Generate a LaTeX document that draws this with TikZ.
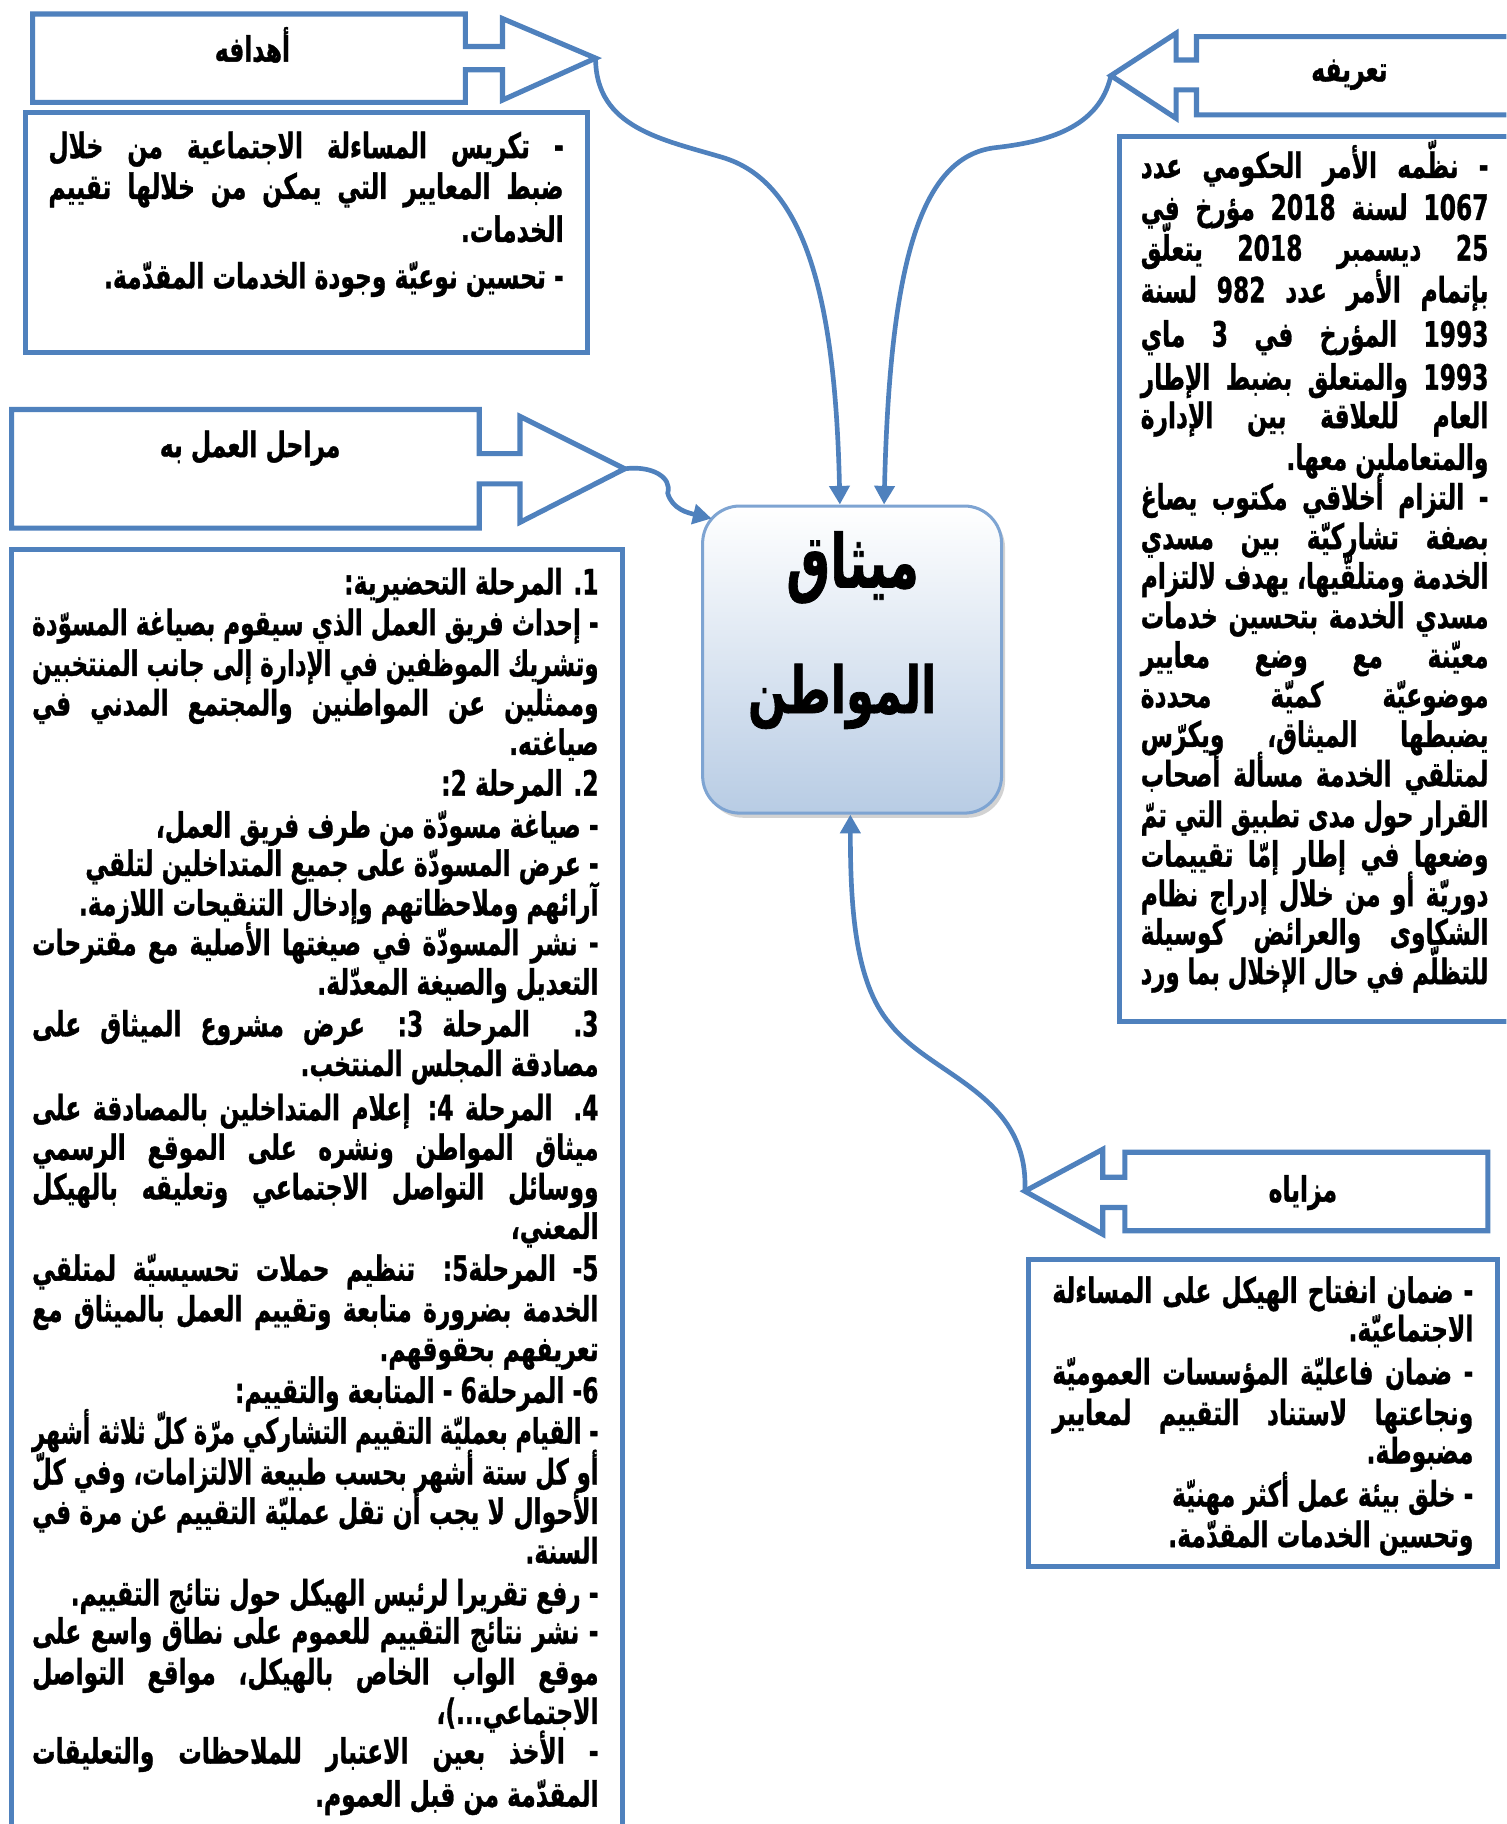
\documentclass[tikz,border=0pt]{standalone}
\usepackage{fontspec}
\usepackage{graphicx}
\usetikzlibrary{arrows.meta,calc,shadows}
\TeXXeTstate=1
\newfontfamily\arfont[Script=Arabic,BoldFeatures={FakeBold=1.2}]{DejaVu Sans}
\newcommand\arbody{\arfont\bfseries\fontsize{15}{18}\selectfont}
\definecolor{ob}{RGB}{79,129,189}
\definecolor{hubbot}{RGB}{184,204,228}
\definecolor{hubline}{RGB}{126,164,210}
\newsavebox\lnbox
\newlength\tmpw
\newcommand\hsc{0.67}
\newcommand\hscinv{1.4925}
\newcommand\jl[2]{\sbox\lnbox{\beginR #2\endR}%
  \setlength\tmpw{\hscinv\dimexpr#1\relax}%
  \ifdim\wd\lnbox>\tmpw\relax\resizebox{#1}{\ht\lnbox}{\usebox\lnbox}%
  \else\scalebox{\hsc}[1]{\hbox to \tmpw{\beginR #2\endR}}\fi}
\newcommand\rl[2]{\sbox\lnbox{\beginR #2\endR}%
  \setlength\tmpw{\hscinv\dimexpr#1\relax}%
  \ifdim\wd\lnbox>\tmpw\relax\resizebox{#1}{\ht\lnbox}{\usebox\lnbox}%
  \else\scalebox{\hsc}[1]{\usebox\lnbox}\fi}
\newcommand\hl[1]{\scalebox{\hsc}[1]{\beginR #1\endR}}
\newcommand\WA{221.5pt}
\newcommand\WB{149.5pt}
\newcommand\WC{243.5pt}
\newcommand\WD{181pt}
\begin{document}
\begin{tikzpicture}[x=0.5pt,y=-0.5pt,
  shapeline/.style={draw=ob,line width=2.2pt,line join=miter},
  conn/.style={draw=ob,line width=2pt,-{Triangle[length=8pt,width=8.5pt]}},
  txt/.style={anchor=base east,inner sep=0pt,font=\arbody},
  hdr/.style={anchor=base,inner sep=0pt,font=\arbody},
  hub/.style={draw=hubline,line width=1.3pt,rounded corners=16pt,
    top color=white,bottom color=hubbot,minimum width=128.5pt,minimum height=132pt,
    drop shadow={shadow xshift=1.5pt,shadow yshift=-2pt,fill=black!35,opacity=0.5}},
  title/.style={anchor=base,inner sep=0pt,font=\arfont\bfseries\fontsize{30}{36}\selectfont}]
\useasboundingbox (0,0) rectangle (1295,1568);
\fill[white] (0,0) rectangle (1295,1568);
\clip (0,0) rectangle (1295,1568);

% ---------- block arrows ----------
\draw[shapeline] (28,12) -- (400,12) -- (400,40) -- (432,40) -- (432,16) -- (512,50)
  -- (432,86) -- (432,60) -- (400,60) -- (400,88) -- (28,88) -- cycle;
\coordinate (tipA) at (512,50);
\draw[shapeline] (1310,31.5) -- (1028.6,31.5) -- (1028.6,51.6) -- (1011,51.6) -- (1011,28.6)
  -- (955,65) -- (1011,101.7) -- (1011,77.3) -- (1028.6,77.3) -- (1028.6,98.8) -- (1310,98.8);
\coordinate (tipB) at (955,65);
\draw[shapeline] (10,352) -- (412,352) -- (412,390) -- (447,390) -- (447,358) -- (537,403)
  -- (447,449) -- (447,416) -- (412,416) -- (412,454) -- (10,454) -- cycle;
\coordinate (tipC) at (537,403);
\draw[shapeline] (1279,990.5) -- (967,990.5) -- (967,1012) -- (948,1012) -- (948,988)
  -- (881,1024) -- (948,1061) -- (948,1038) -- (967,1038) -- (967,1058) -- (1279,1058) -- cycle;
\coordinate (tipD) at (881,1024);

% ---------- text boxes ----------
\draw[shapeline] (22,97) rectangle (505,303);
\draw[shapeline] (962,117) rectangle (1310,878);
\draw[shapeline] (10,472) rectangle (535,1590);
\draw[shapeline] (884,1083) rectangle (1287,1347);

% ---------- headers ----------
\node[hdr] (hA) at (217,53) {\hl{أهدافه}};
\node[hdr] (hB) at (1160,70) {\hl{تعريفه}};
\node[hdr] (hC) at (215,393) {\hl{مراحل العمل به}};
\node[hdr] (hD) at (1120,1033) {\hl{مزاياه}};

% ---------- hub ----------
\node[hub] (hub) at (732.5,567) {};
\node[title] (t1) at (733,505) {\resizebox*{57pt}{31pt}{\beginR ميثاق\endR}};
\node[title] (t2) at (724,613) {\resizebox*{81pt}{28pt}{\beginR المواطن\endR}};

% ---------- connectors ----------
\coordinate (inA) at ($(hub.north)+(-10.5,0)$);
\coordinate (inB) at ($(hub.north)+(27.5,0)$);
\coordinate (inC) at ($(hub.north west)+(9,12)$);
\coordinate (inD) at ($(hub.south)+(-1.5,0)$);
\draw[conn] (tipA) .. controls (512,110) and (570,120) .. (620,135)
  .. controls (690,155) and (718,250) .. (inA);
\draw[conn] (tipB) .. controls (945,110) and (900,122) .. (855,127)
  .. controls (790,135) and (765,230) .. (inB);
\draw[conn] (tipC) .. controls (560,400) and (578,410) .. (574,424)
  .. controls (578,438) and (592,441) .. (inC);
\draw[conn] (tipD) .. controls (885,940) and (800,925) .. (765,880)
  .. controls (735,845) and (731,780) .. (inD);

% ---------- block A text ----------
\node[txt] (a1) at (485,136) {\jl{\WA}{- تكريس المساءلة الاجتماعية من خلال}};
\node[txt] (a2) at (485,171) {\jl{\WA}{ضبط المعايير التي يمكن من خلالها تقييم}};
\node[txt] (a3) at (485,208) {\rl{\WA}{الخدمات.}};
\node[txt] (a4) at (485,248) {\rl{\WA}{- تحسين نوعيّة وجودة الخدمات المقدّمة.}};

% ---------- block B text ----------
\node[txt] (b1) at (1280,153) {\jl{\WB}{- نظّمه الأمر الحكومي عدد}};
\node[txt] (b2) at (1280,189) {\jl{\WB}{1067 لسنة 2018 مؤرخ في}};
\node[txt] (b3) at (1280,224) {\jl{\WB}{25 ديسمبر 2018 يتعلّق}};
\node[txt] (b4) at (1280,260) {\jl{\WB}{بإتمام الأمر عدد 982 لسنة}};
\node[txt] (b5) at (1280,298) {\jl{\WB}{1993 المؤرخ في 3 ماي}};
\node[txt] (b6) at (1280,335) {\jl{\WB}{1993 والمتعلق بضبط الإطار}};
\node[txt] (b7) at (1280,368) {\jl{\WB}{العام للعلاقة بين الإدارة}};
\node[txt] (b8) at (1280,404) {\rl{\WB}{والمتعاملين معها.}};
\node[txt] (b9) at (1280,438) {\jl{\WB}{- التزام أخلاقي مكتوب يصاغ}};
\node[txt] (b10) at (1280,472) {\jl{\WB}{بصفة تشاركيّة بين مسدي}};
\node[txt] (b11) at (1280,506) {\jl{\WB}{الخدمة ومتلقّيها، يهدف لالتزام}};
\node[txt] (b12) at (1280,540) {\jl{\WB}{مسدي الخدمة بتحسين خدمات}};
\node[txt] (b13) at (1280,574) {\jl{\WB}{معيّنة مع وضع معايير}};
\node[txt] (b14) at (1280,608) {\jl{\WB}{موضوعيّة كميّة محددة}};
\node[txt] (b15) at (1280,642) {\jl{\WB}{يضبطها الميثاق، ويكرّس}};
\node[txt] (b16) at (1280,676) {\jl{\WB}{لمتلقي الخدمة مسألة أصحاب}};
\node[txt] (b17) at (1280,711) {\jl{\WB}{القرار حول مدى تطبيق التي تمّ}};
\node[txt] (b18) at (1280,745) {\jl{\WB}{وضعها في إطار إمّا تقييمات}};
\node[txt] (b19) at (1280,779) {\jl{\WB}{دوريّة أو من خلال إدراج نظام}};
\node[txt] (b20) at (1280,812) {\jl{\WB}{الشكاوى والعرائض كوسيلة}};
\node[txt] (b21) at (1280,846) {\jl{\WB}{للتظلّم في حال الإخلال بما ورد}};

% ---------- block C text ----------
\node[txt] (c1) at (515,511) {\rl{\WC}{1. المرحلة التحضيرية:}};
\node[txt] (c2) at (515,546) {\jl{\WC}{- إحداث فريق العمل الذي سيقوم بصياغة المسوّدة}};
\node[txt] (c3) at (515,581) {\jl{\WC}{وتشريك الموظفين في الإدارة إلى جانب المنتخبين}};
\node[txt] (c4) at (515,615) {\jl{\WC}{وممثلين عن المواطنين والمجتمع المدني في}};
\node[txt] (c5) at (515,649) {\rl{\WC}{صياغته.}};
\node[txt] (c6) at (515,684) {\rl{\WC}{2. المرحلة 2:}};
\node[txt] (c7) at (515,720) {\rl{\WC}{- صياغة مسودّة من طرف فريق العمل،}};
\node[txt] (c8) at (515,753) {\rl{\WC}{- عرض المسودّة على جميع المتداخلين لتلقي}};
\node[txt] (c9) at (515,787) {\rl{\WC}{آرائهم وملاحظاتهم وإدخال التنقيحات اللازمة.}};
\node[txt] (c10) at (515,821) {\jl{\WC}{- نشر المسودّة في صيغتها الأصلية مع مقترحات}};
\node[txt] (c11) at (515,855) {\rl{\WC}{التعديل والصيغة المعدّلة.}};
\node[txt] (c12) at (515,891) {\jl{\WC}{3. المرحلة 3: عرض مشروع الميثاق على}};
\node[txt] (c13) at (515,925) {\rl{\WC}{مصادقة المجلس المنتخب.}};
\node[txt] (c14) at (515,963) {\jl{\WC}{4. المرحلة 4: إعلام المتداخلين بالمصادقة على}};
\node[txt] (c15) at (515,997) {\jl{\WC}{ميثاق المواطن ونشره على الموقع الرسمي}};
\node[txt] (c16) at (515,1031) {\jl{\WC}{ووسائل التواصل الاجتماعي وتعليقه بالهيكل}};
\node[txt] (c17) at (515,1065) {\rl{\WC}{المعني،}};
\node[txt] (c18) at (515,1101) {\jl{\WC}{5- المرحلة5: تنظيم حملات تحسيسيّة لمتلقي}};
\node[txt] (c19) at (515,1136) {\jl{\WC}{الخدمة بضرورة متابعة وتقييم العمل بالميثاق مع}};
\node[txt] (c20) at (515,1170) {\rl{\WC}{تعريفهم بحقوقهم.}};
\node[txt] (c21) at (515,1206) {\rl{\WC}{6- المرحلة6 - المتابعة والتقييم:}};
\node[txt] (c22) at (515,1241) {\jl{\WC}{- القيام بعمليّة التقييم التشاركي مرّة كلّ ثلاثة أشهر}};
\node[txt] (c23) at (515,1276) {\jl{\WC}{أو كل ستة أشهر بحسب طبيعة الالتزامات، وفي كلّ}};
\node[txt] (c24) at (515,1310) {\jl{\WC}{الأحوال لا يجب أن تقل عمليّة التقييم عن مرة في}};
\node[txt] (c25) at (515,1344) {\rl{\WC}{السنة.}};
\node[txt] (c26) at (515,1380) {\rl{\WC}{- رفع تقريرا لرئيس الهيكل حول نتائج التقييم.}};
\node[txt] (c27) at (515,1413) {\jl{\WC}{- نشر نتائج التقييم للعموم على نطاق واسع على}};
\node[txt] (c28) at (515,1448) {\jl{\WC}{موقع الواب الخاص بالهيكل، مواقع التواصل}};
\node[txt] (c29) at (515,1482) {\rl{\WC}{الاجتماعي...)،}};
\node[txt] (c30) at (515,1516) {\jl{\WC}{- الأخذ بعين الاعتبار للملاحظات والتعليقات}};
\node[txt] (c31) at (515,1553) {\rl{\WC}{المقدّمة من قبل العموم.}};

% ---------- block D text ----------
\node[txt] (d1) at (1267,1120) {\jl{\WD}{- ضمان انفتاح الهيكل على المساءلة}};
\node[txt] (d2) at (1267,1153) {\rl{\WD}{الاجتماعيّة.}};
\node[txt] (d3) at (1267,1190) {\jl{\WD}{- ضمان فاعليّة المؤسسات العموميّة}};
\node[txt] (d4) at (1267,1225) {\jl{\WD}{ونجاعتها لاستناد التقييم لمعايير}};
\node[txt] (d5) at (1267,1258) {\rl{\WD}{مضبوطة.}};
\node[txt] (d6) at (1267,1295) {\rl{\WD}{- خلق بيئة عمل أكثر مهنيّة}};
\node[txt] (d7) at (1267,1330) {\rl{\WD}{وتحسين الخدمات المقدّمة.}};
\end{tikzpicture}
\end{document}
